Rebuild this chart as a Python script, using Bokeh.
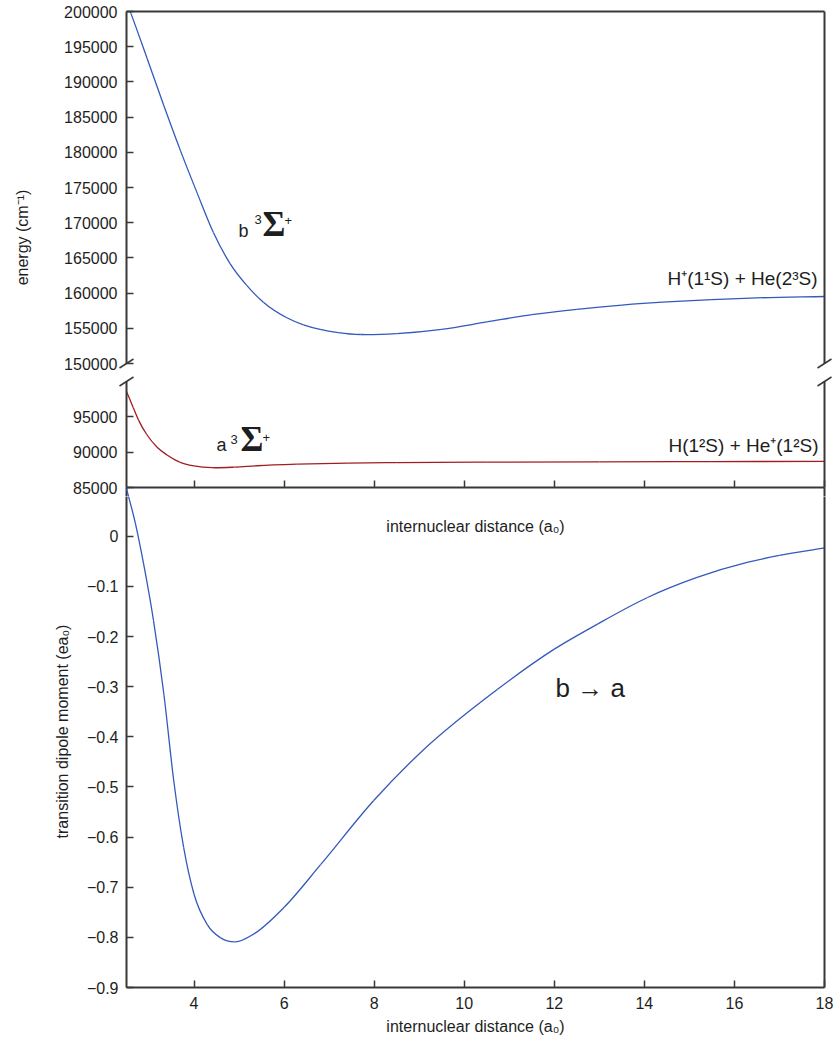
import math
from bokeh.plotting import figure
from bokeh.layouts import column
from bokeh.core.properties import value
from bokeh.models import (Range1d, FixedTicker, LinearAxis, Label,
                          NumeralTickFormatter, CustomJSTickFormatter)
from bokeh.embed import file_html
from bokeh.resources import INLINE

# ---------------- data ----------------
# b 3Sigma+ potential curve (cm^-1)
r_b = [2.5, 2.6, 2.96, 3.33, 3.7, 4.07, 4.43, 4.8, 5.17, 5.54, 6.06, 6.43, 6.8,
       7.2, 7.7, 8.5, 9.5, 10.5, 11.5, 12.5, 13.5, 14.5, 15.5, 16.5, 18.0]
E_b = [201400, 199700, 193300, 186600, 180200, 174200, 168600, 164200, 161100,
       158700, 156500, 155500, 154850, 154400, 154120, 154250, 154850, 155900,
       156950, 157700, 158300, 158750, 159080, 159320, 159520]

# a 3Sigma+ potential curve (cm^-1)
r_a = [2.5, 2.65, 2.77, 2.95, 3.18, 3.4, 3.68, 4.0, 4.4, 4.9, 5.4, 6.3, 7.4,
       8.5, 10.5, 13.0, 15.5, 18.0]
E_a = [98600, 96300, 94500, 92500, 90700, 89600, 88600, 88050, 87800, 87880,
       88080, 88300, 88450, 88520, 88590, 88640, 88670, 88690]

# transition dipole moment b -> a (e a0)
r_d = [2.5, 2.7, 2.88, 3.1, 3.33, 3.55, 3.77, 4.0, 4.29, 4.59, 4.92, 5.33, 6.0,
       6.81, 7.99, 9.02, 10.74, 12.0, 12.96, 14.07, 15.17, 16.28, 17.0, 18.0]
D_d = [0.095, 0.025, -0.055, -0.168, -0.315, -0.488, -0.621, -0.714, -0.774,
       -0.801, -0.809, -0.793, -0.740, -0.655, -0.527, -0.432, -0.305,
       -0.225, -0.175, -0.122, -0.082, -0.052, -0.038, -0.023]

x_ticks = [4, 6, 8, 10, 12, 14, 16, 18]
e_hi_ticks = [150000, 155000, 160000, 165000, 170000, 175000, 180000, 185000,
              190000, 195000, 200000]
e_lo_ticks = [85000, 90000, 95000]
d_ticks = [-0.9, -0.8, -0.7, -0.6, -0.5, -0.4, -0.3, -0.2, -0.1, 0]

X_RANGE = (2.5, 18.0)
E_HI_RANGE = (150000, 200000)
E_LO_RANGE = (85000, 100000)
D_RANGE = (-0.9, 0.0975)   # full extent of the lower panel

# ---------------- style ----------------
FONT = "Liberation Sans"
SERIF = "Liberation Serif"
TXT = "#1e1e1e"
AX = "#383838"
BLUE = "#3459bd"
RED = "#a11d21"
FRAME_W = 698


def style_axis(ax, ticks, labels=True):
    ax.ticker = FixedTicker(ticks=ticks)
    ax.axis_line_color = AX
    ax.axis_line_width = 2
    ax.major_tick_line_color = AX
    ax.major_tick_line_width = 1.5
    ax.major_tick_in = 7
    ax.major_tick_out = 0
    ax.minor_tick_line_color = None
    ax.major_label_text_font = FONT
    ax.major_label_text_color = TXT
    if labels:
        ax.major_label_text_font_size = "16px"
        ax.major_label_standoff = 8
    else:
        ax.formatter = CustomJSTickFormatter(code="return '';")
        ax.major_label_text_font_size = "0px"
        ax.major_label_standoff = 0
    ax.axis_label_text_font = FONT
    ax.axis_label_text_font_style = "normal"
    ax.axis_label_text_color = TXT
    ax.axis_label_text_font_size = "16px"


def border(p, side):
    ax = LinearAxis(ticker=FixedTicker(ticks=[]))
    ax.axis_line_color = AX
    ax.axis_line_width = 2
    ax.major_tick_in = 0
    ax.major_tick_out = 0
    ax.minor_tick_in = 0
    ax.minor_tick_out = 0
    ax.major_label_standoff = 0
    p.add_layout(ax, side)


def make_fig(h, top, bottom, yr, **kw):
    p = figure(width=837, height=h, x_range=Range1d(*X_RANGE), y_range=Range1d(*yr),
               output_backend="svg", toolbar_location=None,
               min_border_left=126, min_border_right=13,
               min_border_top=top, min_border_bottom=bottom,
               outline_line_color=None, background_fill_color="white",
               border_fill_color="white", **kw)
    p.xgrid.visible = False
    p.ygrid.visible = False
    return p


def curve(p, xs, ys, color, **kw):
    """Smooth curve through the read points, drawn as Bokeh bezier segments
    (3-point derivative tangents, flattened at local extrema)."""
    n = len(xs)
    h = [xs[k + 1] - xs[k] for k in range(n - 1)]
    d = [(ys[k + 1] - ys[k]) / h[k] for k in range(n - 1)]
    m = [0.0] * n
    m[0], m[-1] = d[0], d[-1]
    for k in range(1, n - 1):
        m[k] = (h[k - 1] * d[k] + h[k] * d[k - 1]) / (h[k - 1] + h[k])
        if d[k - 1] * d[k] <= 0:
            m[k] *= 0.5
    p.bezier(x0=xs[:-1], y0=ys[:-1], x1=xs[1:], y1=ys[1:],
             cx0=[xs[k] + h[k] / 3 for k in range(n - 1)],
             cy0=[ys[k] + m[k] * h[k] / 3 for k in range(n - 1)],
             cx1=[xs[k + 1] - h[k] / 3 for k in range(n - 1)],
             cy1=[ys[k + 1] - m[k + 1] * h[k] / 3 for k in range(n - 1)],
             line_color=color, line_width=1.3, **kw)


def lab(p, x, y, text, size, font=FONT, style="normal", align="left",
        baseline="alphabetic"):
    p.add_layout(Label(x=x, y=y, text=text, text_font=font, text_font_size=size,
                       text_font_style=style, text_color=TXT, text_align=align,
                       text_baseline=baseline))


def vlab(p, x, y, text, size="16px"):
    """Rotated axis title placed outside the frame (overlay level is not clipped)."""
    p.text(x=[x], y=[y], text=[text], angle=math.pi / 2,
           text_font=value(FONT), text_font_size=value(size), text_color=TXT,
           text_align="center", text_baseline="middle", level="overlay")


def slashes(p, y, dx, dy):
    xs = [X_RANGE[0], X_RANGE[1]]
    p.segment(x0=[x - dx for x in xs], y0=[y - dy] * 2,
              x1=[x + dx for x in xs], y1=[y + dy] * 2,
              line_color=AX, line_width=1.5, level="overlay")


sx = 7 * (X_RANGE[1] - X_RANGE[0]) / FRAME_W

# ---------------- top panel: b state ----------------
p1 = make_fig(372, 11, 9, E_HI_RANGE, x_axis_location=None)
style_axis(p1.yaxis[0], e_hi_ticks)
p1.yaxis[0].formatter = NumeralTickFormatter(format="0")
p1.yaxis[0].major_label_standoff = 9
border(p1, "above")
border(p1, "right")
curve(p1, r_b, E_b, BLUE)

lab(p1, 4.987, 168890, "b", "18px")
lab(p1, 5.343, 170430, "3", "13px")
lab(p1, 5.52, 169810, "\u03a3", "35px", font=SERIF, style="bold")
lab(p1, 6.009, 170250, "+", "13px")
lab(p1, 17.845, 162030, "H\u207a(1\u00b9S) + He(2\u00b3S)", "19px", align="right")
vlab(p1, 0.19, 167898, "energy (cm\u207b\u00b9)")

sy1 = 4.5 * (E_HI_RANGE[1] - E_HI_RANGE[0]) / 352
slashes(p1, E_HI_RANGE[0], sx, sy1)

# ---------------- middle panel: a state ----------------
GAP = 9  # px of the middle canvas below its frame (room for the 85000 label)
d_per_px = (D_RANGE[1] - D_RANGE[0]) / 500
p2 = make_fig(106 + 9 + GAP, 9, GAP, E_LO_RANGE)
p2.extra_y_ranges = {"dip": Range1d(D_RANGE[1], D_RANGE[1] + 106 * d_per_px)}
style_axis(p2.yaxis[0], e_lo_ticks)
p2.yaxis[0].formatter = NumeralTickFormatter(format="0")
p2.yaxis[0].major_label_standoff = 9
style_axis(p2.xaxis[0], x_ticks, labels=False)
border(p2, "right")
curve(p2, r_a, E_a, RED)

lab(p2, 4.499, 90946, "a", "18px")
lab(p2, 4.81, 91800, "3", "13px")
lab(p2, 5.032, 91800, "\u03a3", "35px", font=SERIF, style="bold")
lab(p2, 5.52, 92070, "+", "13px")
lab(p2, 17.867, 90946, "H(1\u00b2S) + He\u207a(1\u00b2S)", "19px", align="right")

e_per_px = (E_LO_RANGE[1] - E_LO_RANGE[0]) / 106
slashes(p2, E_LO_RANGE[1], sx, 4.5 * e_per_px)
# continue the left / right frame lines through the strip below the middle frame
p2.segment(x0=list(X_RANGE), y0=[E_LO_RANGE[0]] * 2, x1=list(X_RANGE),
           y1=[E_LO_RANGE[0] - (GAP + 1) * e_per_px] * 2,
           line_color=AX, line_width=2, level="overlay")
# top of the dipole curve that falls in that strip
curve(p2, r_d, D_d, BLUE, y_range_name="dip", level="overlay")

# ---------------- bottom panel: transition dipole ----------------
p3 = make_fig(1038 - 372 - (106 + 9 + GAP), 0, 51,
              (D_RANGE[0], D_RANGE[1] - GAP * d_per_px))
style_axis(p3.yaxis[0], d_ticks)
p3.yaxis[0].formatter = CustomJSTickFormatter(
    code="return Math.abs(tick) < 1e-9 ? '0' : tick.toFixed(1).replace('-', '\\u2212');")
style_axis(p3.xaxis[0], x_ticks)
p3.xaxis[0].major_label_standoff = 9
p3.xaxis[0].axis_label = "internuclear distance (a\u2080)"
p3.xaxis[0].axis_label_standoff = 6
border(p3, "right")
curve(p3, r_d, D_d, BLUE)

vlab(p3, 1.079, -0.3893, "transition dipole moment (ea\u2080)")
lab(p3, 12.027, -0.3015, "b \u2192 a", "26px")
lab(p3, 10.25, 0.0197, "internuclear distance (a\u2080)", "16px", align="center")

layout = column(p1, p2, p3, spacing=0)
open("out.html", "w").write(file_html(layout, INLINE))
